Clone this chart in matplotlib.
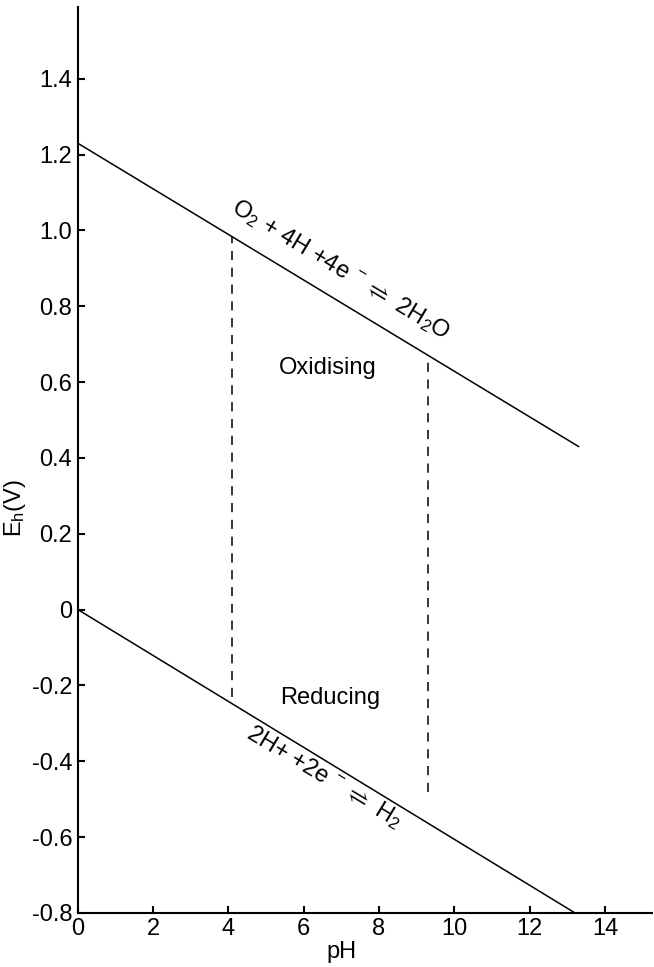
import numpy as np
import matplotlib
matplotlib.use("Agg")
import matplotlib.pyplot as plt

plt.rcParams['font.family'] = ['Liberation Sans', 'DejaVu Sans']
plt.rcParams['mathtext.default'] = 'regular'
plt.rcParams['axes.unicode_minus'] = False

# water stability lines (pH, Eh)
o2_ph = [0, 13.3]
o2_eh = [1.23, 0.43]
h2_ph = [0, 13.2]
h2_eh = [0.0, -0.8]

# dashed bounds of natural waters
dash_ph = [4.1, 9.3]
dash_top = [0.985, 0.67]
dash_bot = [-0.23, -0.48]

xticks = [0, 2, 4, 6, 8, 10, 12, 14]
yticks = [-0.8, -0.6, -0.4, -0.2, 0, 0.2, 0.4, 0.6, 0.8, 1.0, 1.2, 1.4]
ytick_labels = ['-0.8', '-0.6', '-0.4', '-0.2', '0', '0.2', '0.4', '0.6',
                '0.8', '1.0', '1.2', '1.4']

fig = plt.figure(figsize=(6.54, 9.67), dpi=100)
ax = fig.add_axes([0.119, 0.056, 0.878, 0.937])

ax.plot(o2_ph, o2_eh, color='black', linewidth=1.1)
ax.plot(h2_ph, h2_eh, color='black', linewidth=1.1)
for x, y0, y1 in zip(dash_ph, dash_bot, dash_top):
    ax.plot([x, x], [y0, y1], color='black', linewidth=1.1,
            linestyle=(0, (6, 5)))

ax.text(6.65, 0.638, 'Oxidising', fontsize=17, ha='center', va='center')
ax.text(6.7, -0.234, 'Reducing', fontsize=17, ha='center', va='center')
ax.text(6.98, 0.895, r'O$_2$ + 4H +4e$\,^-\rightleftharpoons$ 2H$_2$O',
        fontsize=17, ha='center', va='center', rotation=-31,
        rotation_mode='anchor')
ax.text(6.55, -0.44, r'2H+ +2e$\,^-\rightleftharpoons$ H$_2$',
        fontsize=17, ha='center', va='center', rotation=-31,
        rotation_mode='anchor')

ax.set_xlim(0, 15.25)
ax.set_ylim(-0.8, 1.59)
ax.set_xticks(xticks)
ax.set_yticks(yticks)
ax.set_yticklabels(ytick_labels)
ax.tick_params(direction='in', length=5, width=1.5, labelsize=17, pad=4)

for s in ['top', 'right']:
    ax.spines[s].set_visible(False)
for s in ['left', 'bottom']:
    ax.spines[s].set_linewidth(1.5)

ax.set_xlabel('pH', fontsize=17)
ax.xaxis.set_label_coords(0.46, -0.031)
ax.set_ylabel(r'E$_h$(V)', fontsize=17)
ax.yaxis.set_label_coords(-0.087, 0.447)

fig.savefig('out.png', dpi=100)
